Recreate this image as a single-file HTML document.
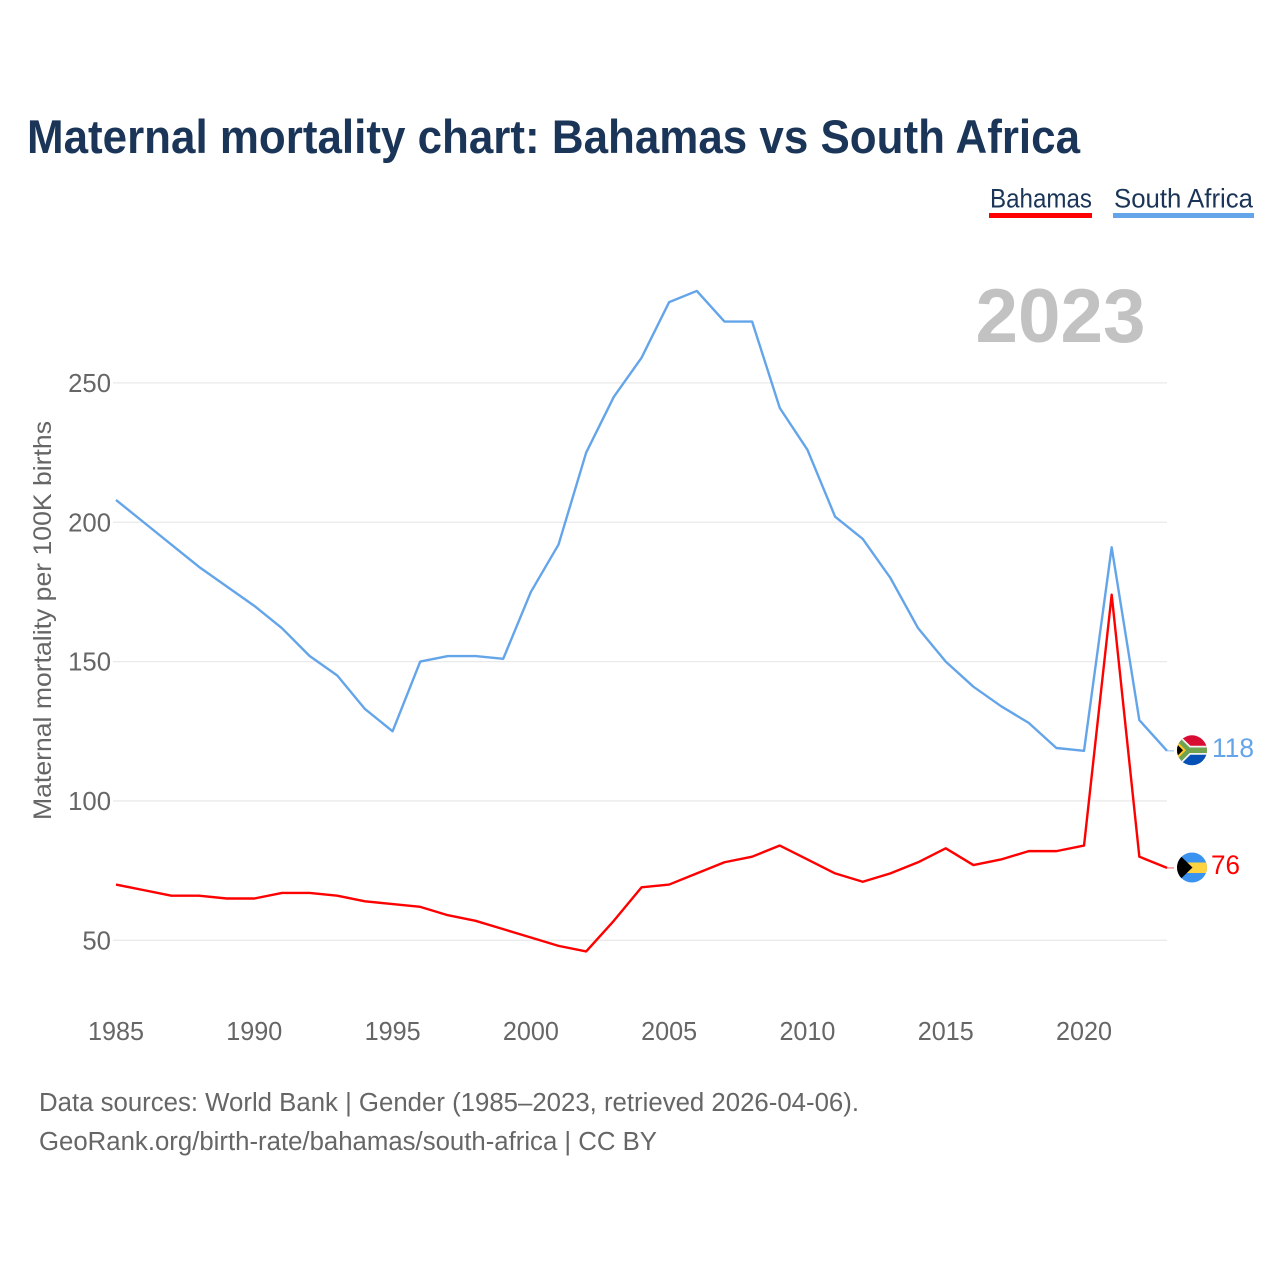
<!DOCTYPE html>
<html lang="en">
<head>
<meta charset="utf-8">
<title>Maternal mortality chart: Bahamas vs South Africa</title>
<style>
html,body{margin:0;padding:0;background:#fff;}
svg{display:block;font-family:"Liberation Sans",sans-serif;}
</style>
</head>
<body>
<svg id="chart" xmlns="http://www.w3.org/2000/svg" width="1280" height="1280" viewBox="0 0 1280 1280">
  <defs>
    <clipPath id="clip-sa"><circle cx="1192" cy="750.3" r="15"/></clipPath>
    <clipPath id="clip-bs"><circle cx="1192" cy="867.5" r="15"/></clipPath>
  </defs>
  <rect x="0" y="0" width="1280" height="1280" fill="#fff"/>
  <text x="27" y="153" font-size="47" font-weight="700" fill="#1a3557" textLength="1053" lengthAdjust="spacingAndGlyphs">Maternal mortality chart: Bahamas vs South Africa</text>

  <g>
    <g>
      <text x="990" y="207.5" font-size="26.5" fill="#1a3557" textLength="102" lengthAdjust="spacingAndGlyphs">Bahamas</text>
      <rect x="989" y="213" width="103" height="5" fill="#ff0000"/>
    </g>
    <g>
      <text x="1114" y="207.5" font-size="26.5" fill="#1a3557" textLength="139" lengthAdjust="spacingAndGlyphs">South Africa</text>
      <rect x="1113" y="213" width="141" height="5" fill="#64a5ea"/>
    </g>
  </g>

  <text x="975.5" y="342" font-size="76" font-weight="700" fill="#c2c2c2" textLength="170" lengthAdjust="spacingAndGlyphs">2023</text>

  <g id="grid"></g>
  <g id="yticks"></g>
  <g id="xticks"></g>
  <text transform="translate(51,620.5) rotate(-90)" text-anchor="middle" font-size="25" fill="#666" textLength="399" lengthAdjust="spacingAndGlyphs">Maternal mortality per 100K births</text>

  <path id="line-sa" fill="none" stroke="#64a5ea" stroke-width="2.4" stroke-linejoin="round"/>
  <path id="line-bs" fill="none" stroke="#ff0000" stroke-width="2.4" stroke-linejoin="round"/>
  <path id="stub-sa" fill="none" stroke="#64a5ea" stroke-opacity="0.45" stroke-width="1.6"/>
  <path id="stub-bs" fill="none" stroke="#ff0000" stroke-opacity="0.4" stroke-width="1.6"/>

  <g id="flag-sa" clip-path="url(#clip-sa)">
    <rect x="1177" y="735" width="30" height="15.3" fill="#d80c32"/>
    <rect x="1177" y="750.3" width="30" height="15.7" fill="#0551b5"/>
    <path d="M1172 734 L1188.5 750.3 L1172 766.6 M1188.5 750.3 H1208" fill="none" stroke="#f2f2f2" stroke-width="9"/>
    <path d="M1172 734 L1188.5 750.3 L1172 766.6 M1188.5 750.3 H1208" fill="none" stroke="#6fa34f" stroke-width="5.5"/>
    <path d="M1176 740.3 L1186 750.3 L1176 760.3 Z" fill="#ffc72c"/>
    <path d="M1176 743.3 L1183 750.3 L1176 757.3 Z" fill="#000"/>
  </g>
  <g id="flag-bs" clip-path="url(#clip-bs)">
    <rect x="1177" y="852" width="30" height="31" fill="#3a93ee"/>
    <rect x="1177" y="862.5" width="30" height="10.5" fill="#ffd23f"/>
    <path d="M1177 852.5 L1192.5 867.5 L1177 882.5 Z" fill="#000"/>
  </g>
  <text id="end-sa" x="1212" y="757" font-size="26.5" fill="#64a5ea" textLength="42" lengthAdjust="spacingAndGlyphs">118</text>
  <text id="end-bs" x="1211" y="874" font-size="26.5" fill="#ff0000" textLength="29" lengthAdjust="spacingAndGlyphs">76</text>

  <g>
    <text x="39" y="1111" font-size="25.5" fill="#666" textLength="820" lengthAdjust="spacingAndGlyphs">Data sources: World Bank | Gender (1985–2023, retrieved 2026-04-06).</text>
    <text x="39" y="1150" font-size="25.5" fill="#666" textLength="618" lengthAdjust="spacingAndGlyphs">GeoRank.org/birth-rate/bahamas/south-africa | CC BY</text>
  </g>
</svg>
<script>
const years = [1985,1986,1987,1988,1989,1990,1991,1992,1993,1994,1995,1996,1997,1998,1999,2000,2001,2002,2003,2004,2005,2006,2007,2008,2009,2010,2011,2012,2013,2014,2015,2016,2017,2018,2019,2020,2021,2022,2023];
const southAfrica = [208,200,192,184,177,170,162,152,145,133,125,150,152,152,151,175,192,225,245,259,279,283,272,272,241,226,202,194,180,162,150,141,134,128,119,118,191,129,118];
const bahamas = [70,68,66,66,65,65,67,67,66,64,63,62,59,57,54,51,48,46,57,69,70,74,78,80,84,79,74,71,74,78,83,77,79,82,82,84,174,80,76];
const yTickValues = [50,100,150,200,250];
const xTickValues = [1985,1990,1995,2000,2005,2010,2015,2020];

const NS = 'http://www.w3.org/2000/svg';
function xScale(year){ return 116 + (year - 1985) * (1167 - 116) / (2023 - 1985); }
function yScale(v){ return 940.3 - (v - 50) * (940.3 - 382.9) / (250 - 50); }
function linePath(series){
  return series.map(function(v,i){ return (i ? 'L' : 'M') + xScale(years[i]).toFixed(2) + ' ' + yScale(v).toFixed(2); }).join(' ');
}
function stubPath(series){
  const last = series[series.length-1];
  return 'M' + xScale(2023).toFixed(2) + ' ' + yScale(last).toFixed(2) + ' H' + (xScale(2023)+7).toFixed(2);
}
function makeText(x,y,str,anchor,len){
  const t = document.createElementNS(NS,'text');
  t.setAttribute('x',x);
  t.setAttribute('y',y);
  t.setAttribute('text-anchor',anchor);
  t.setAttribute('font-size','25.5');
  t.setAttribute('fill','#666');
  t.setAttribute('textLength',len);
  t.setAttribute('lengthAdjust','spacingAndGlyphs');
  t.textContent = str;
  return t;
}
const grid = document.getElementById('grid');
const yticks = document.getElementById('yticks');
const xticks = document.getElementById('xticks');
yTickValues.forEach(function(v){
  const l = document.createElementNS(NS,'line');
  
  
  l.setAttribute('x1',113);
  l.setAttribute('x2',1167);
  l.setAttribute('y1',yScale(v));
  l.setAttribute('y2',yScale(v));
  l.setAttribute('stroke','#eaeaea');
  l.setAttribute('stroke-width','1.3');
  grid.appendChild(l);
  const t = makeText(111,yScale(v)+9,String(v),'end',String(v).length*14.3);
  
  
  yticks.appendChild(t);
});
xTickValues.forEach(function(y){
  const t = makeText(xScale(y),1040,String(y),'middle',56);
  
  
  xticks.appendChild(t);
});
document.getElementById('line-sa').setAttribute('d',linePath(southAfrica));
document.getElementById('line-bs').setAttribute('d',linePath(bahamas));
document.getElementById('stub-sa').setAttribute('d',stubPath(southAfrica));
document.getElementById('stub-bs').setAttribute('d',stubPath(bahamas));
document.getElementById('end-sa').textContent = southAfrica[southAfrica.length-1];
document.getElementById('end-bs').textContent = bahamas[bahamas.length-1];
</script>
</body>
</html>
